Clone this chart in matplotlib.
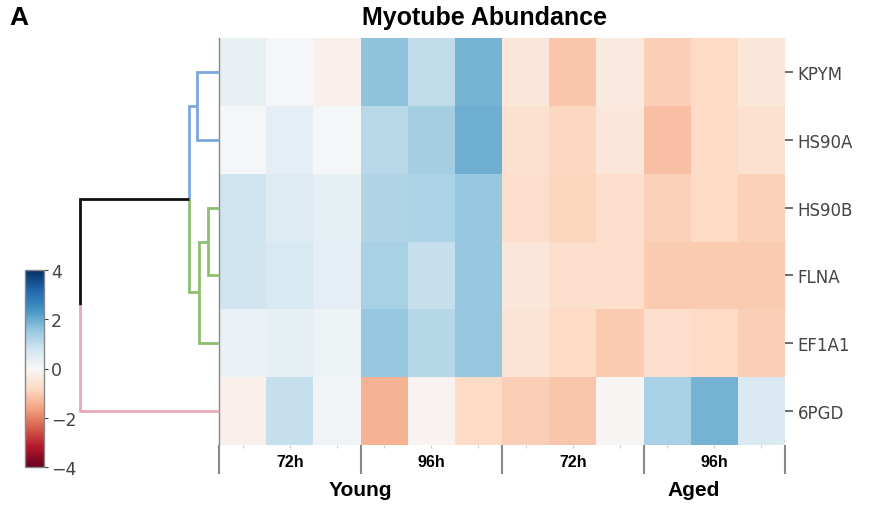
import matplotlib
matplotlib.use("Agg")
import matplotlib.pyplot as plt
import matplotlib.transforms as mtransforms
import numpy as np

# ---------------- data ----------------
proteins = ["KPYM", "HS90A", "HS90B", "FLNA", "EF1A1", "6PGD"]
time_labels = ["72h", "96h", "72h", "96h"]
group_labels = ["Young", "Aged"]

values = np.array([
    [0.30, 0.05, -0.20, 1.60, 1.00, 1.90, -0.50, -1.10, -0.40, -1.00, -0.80, -0.50],
    [0.05, 0.40, 0.05, 1.10, 1.35, 1.95, -0.65, -0.85, -0.50, -1.20, -0.80, -0.65],
    [0.80, 0.50, 0.35, 1.20, 1.25, 1.50, -0.70, -0.90, -0.75, -0.95, -0.80, -0.95],
    [0.80, 0.65, 0.40, 1.30, 0.95, 1.55, -0.50, -0.70, -0.75, -1.05, -1.05, -1.05],
    [0.25, 0.35, 0.20, 1.50, 1.15, 1.55, -0.55, -0.80, -1.05, -0.70, -0.80, -1.00],
    [-0.20, 0.95, 0.15, -1.40, -0.10, -0.80, -1.00, -1.10, -0.05, 1.30, 1.90, 0.60],
])

# dendrogram linkage: (child_a, child_b, height); leaves 0..5, new clusters 6..
linkage = [
    (0, 1, 0.63),   # 6: KPYM + HS90A
    (2, 3, 0.32),   # 7: HS90B + FLNA
    (7, 4, 0.58),   # 8: + EF1A1
    (6, 8, 0.86),   # 9
    (9, 5, 4.00),   # 10: root
]
cluster_colors = {0: "#7ba7dc", 1: "#7ba7dc", 6: "#7ba7dc",
                  2: "#8dbf72", 3: "#8dbf72", 4: "#8dbf72", 7: "#8dbf72", 8: "#8dbf72",
                  9: "#111111", 5: "#e9a9b8"}

# ---------------- figure ----------------
W, H = 877, 506
fig = plt.figure(figsize=(W / 100, H / 100), dpi=100)

def px_axes(x0, y0, x1, y1):
    return fig.add_axes([x0 / W, 1 - y1 / H, (x1 - x0) / W, (y1 - y0) / H])

hm_x0, hm_y0, hm_x1, hm_y1 = 219, 39, 785, 446
ax = px_axes(hm_x0, hm_y0, hm_x1, hm_y1)
nrow, ncol = values.shape
mesh = ax.pcolormesh(np.arange(ncol + 1), np.arange(nrow + 1), values,
                     cmap="RdBu", vmin=-4, vmax=4, shading="flat")
ax.set_xlim(0, ncol)
ax.set_ylim(nrow, 0)
for s in ["top", "right", "bottom"]:
    ax.spines[s].set_visible(False)
ax.spines["left"].set_color("#888888")
ax.spines["left"].set_linewidth(1.0)

# right-hand row labels
ax.yaxis.tick_right()
ax.set_yticks(np.arange(nrow) + 0.5)
ax.set_yticklabels(proteins, fontsize=12, color="#444444", family="DejaVu Sans")
ax.tick_params(axis="y", length=6, width=1.2, color="#555555", pad=3)

# bottom ticks: separators (major) and column ticks (minor)
ax.set_xticks(np.arange(0, ncol + 1, 3))
ax.set_xticklabels([])
ax.set_xticks(np.arange(ncol) + 0.5, minor=True)
ax.tick_params(axis="x", which="major", length=21, width=1.5, color="#888888")
ax.tick_params(axis="x", which="minor", length=2, width=0.8, color="#cccccc")

trans = mtransforms.blended_transform_factory(ax.transData, ax.transAxes)
bold_font = ["Liberation Sans", "DejaVu Sans"]
for i, lab in enumerate(time_labels):
    ax.text(i * 3 + 1.5, -17 / 407, lab, transform=trans, ha="center", va="center",
            fontsize=11.5, fontweight="bold", family=bold_font)
ax.text(3.0, -45 / 407, group_labels[0], transform=trans, ha="center", va="center",
        fontsize=15, fontweight="bold", family=bold_font)
ax.text(10.06, -45 / 407, group_labels[1], transform=trans, ha="center", va="center",
        fontsize=15, fontweight="bold", family=bold_font)

# title and panel letter
fig.text(485 / W, 1 - 18 / H, "Myotube Abundance", ha="center", va="center",
         fontsize=18, fontweight="bold", family=bold_font)
fig.text(9 / W, 1 - 18 / H, "A", ha="left", va="center",
         fontsize=19, fontweight="bold", family=bold_font)

# ---------------- dendrogram ----------------
dx0 = 60
dax = px_axes(dx0, hm_y0, hm_x0, hm_y1)
dax.set_ylim(nrow, 0)
root_h = linkage[-1][2]
dax.set_xlim(root_h * (hm_x0 - dx0) / (hm_x0 - 80), 0)
dax.axis("off")

pos = {i: i + 0.5 for i in range(nrow)}
height = {i: 0.0 for i in range(nrow)}
for k, (a, b, h) in enumerate(linkage):
    cid = nrow + k
    ymid = (pos[a] + pos[b]) / 2
    for c in (a, b):
        dax.plot([height[c], h, h], [pos[c], pos[c], ymid],
                 color=cluster_colors[c], lw=2, solid_capstyle="butt",
                 solid_joinstyle="miter", clip_on=False)
    pos[cid] = ymid
    height[cid] = h

# ---------------- colorbar ----------------
cax = px_axes(25, 271, 44, 468)
cb = fig.colorbar(mesh, cax=cax, ticks=[-4, -2, 0, 2, 4])
cb.outline.set_edgecolor("#888888")
cb.outline.set_linewidth(1.0)
cax.tick_params(labelsize=12.5, colors="#444444", length=3, pad=2)
for t in cax.get_yticklabels():
    t.set_color("#444444")

fig.savefig("out.png", dpi=100)
